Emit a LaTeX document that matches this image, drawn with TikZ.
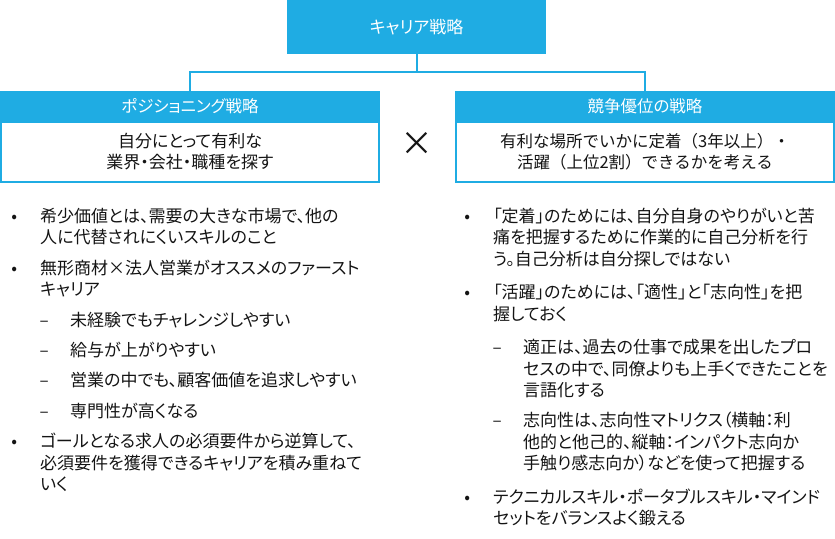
\documentclass[tikz,border=0pt]{standalone}
\usepackage{fontspec}
\setmainfont{Noto Sans CJK JP}
\newfontfamily\propfont{Noto Sans CJK JP}[RawFeature=+palt]
\usetikzlibrary{positioning}
\definecolor{strat}{HTML}{1FACE3}
\definecolor{ink}{HTML}{141414}
\newcommand{\bodyfont}{\propfont\fontsize{17}{21.5}\selectfont}
% marker, then the wrapped lines
\newcommand{\itm}[2]{\makebox[0pt]{#1}\hspace{26pt}\parbox[t]{340pt}{\raggedright\strut #2\strut}}

\begin{document}
\begin{tikzpicture}[x=1pt, y=1pt,
  headbox/.style={fill=strat, text=white, minimum width=380pt, minimum height=31pt, inner sep=0pt, outer sep=0pt, font=\propfont\fontsize{16.5}{20}\selectfont},
  rootbox/.style={headbox, minimum width=259pt, minimum height=54pt, font=\propfont\fontsize{17}{20}\selectfont},
  bodybox/.style={draw=strat, line width=2pt, minimum width=378pt, minimum height=60pt, inner sep=0pt, outer sep=0pt, align=center, text=ink, font=\fontsize{16.5}{21}\selectfont},
  tie/.style={strat, line width=2pt},
  itembox/.style={anchor=north west, inner sep=0pt, text=ink, font=\bodyfont}
]
  \useasboundingbox (0,0) rectangle (835,538);
  \node[rootbox] (root) at (416.5,511) {キャリア戦略};
  \coordinate (fork) at (416.5,466);
  \node[headbox] (posh) at (190,431.5) {ポジショニング戦略};
  \node[bodybox, below=0pt of posh, font=\propfont\fontsize{17}{21}\selectfont] (posb) {自分にとって有利な\\業界・会社・職種を探す};
  \node[headbox] (comph) at (645,431.5) {競争優位の戦略};
  \node[bodybox, below=0pt of comph] (compb) {有利な場所でいかに定着（3年以上）・\\活躍（上位2割）できるかを考える};
  \node[font=\fontsize{33}{33}\selectfont, text=ink] (cross) at (417,394) {×};
  \draw[tie] (root) -- (fork);
  \draw[tie] (posh.north) |- (fork) -| (comph.north);

  % left column
  \node[itembox] (l1) at (14,331) {\itm{•}{希少価値とは、需要の大きな市場で、他の\\人に代替されにくいスキルのこと}};
  \node[itembox, below=8.5pt of l1.south west, anchor=north west] (l2) {\itm{•}{無形商材×法人営業がオススメのファースト\\キャリア}};
  \node[itembox, below=8.5pt of l2.south west, anchor=north west, xshift=30pt] (l3) {\itm{–}{未経験でもチャレンジしやすい}};
  \node[itembox, below=8.5pt of l3.south west, anchor=north west] (l4) {\itm{–}{給与が上がりやすい}};
  \node[itembox, below=8.5pt of l4.south west, anchor=north west] (l5) {\itm{–}{営業の中でも、顧客価値を追求しやすい}};
  \node[itembox, below=8.5pt of l5.south west, anchor=north west] (l6) {\itm{–}{専門性が高くなる}};
  \node[itembox, below=8.5pt of l6.south west, anchor=north west, xshift=-30pt] (l7) {\itm{•}{ゴールとなる求人の必須要件から逆算して、\\必須要件を獲得できるキャリアを積み重ねて\\いく}};

  % right column
  \node[itembox] (r1) at (467,331) {\itm{•}{「定着」のためには、自分自身のやりがいと苦\\痛を把握するために作業的に自己分析を行\\う。自己分析は自分探しではない}};
  \node[itembox, below=11.5pt of r1.south west, anchor=north west] (r2) {\itm{•}{「活躍」のためには、「適性」と「志向性」を把\\握しておく}};
  \node[itembox, below=11.5pt of r2.south west, anchor=north west, xshift=30pt] (r3) {\itm{–}{適正は、過去の仕事で成果を出したプロ\\セスの中で、同僚よりも上手くできたことを\\言語化する}};
  \node[itembox, below=8.5pt of r3.south west, anchor=north west] (r4) {\itm{–}{志向性は、志向性マトリクス（横軸：利\\他的と他己的、縦軸：インパクト志向か\\手触り感志向か）などを使って把握する}};
  \node[itembox, below=11.5pt of r4.south west, anchor=north west, xshift=-30pt] (r5) {\itm{•}{テクニカルスキル・ポータブルスキル・マインド\\セットをバランスよく鍛える}};
\end{tikzpicture}
\end{document}
